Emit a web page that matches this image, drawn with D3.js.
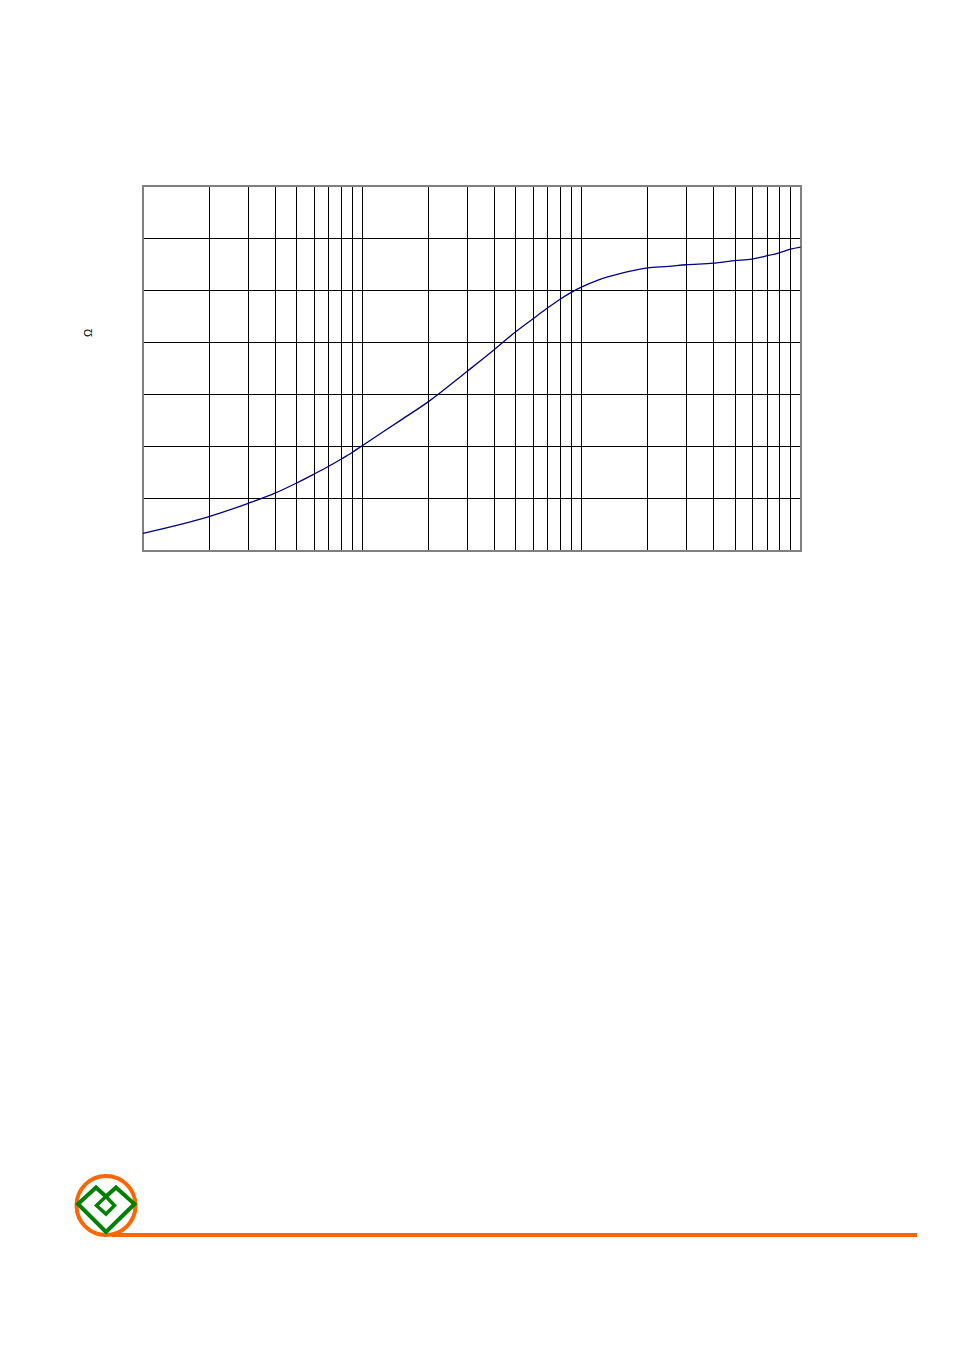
<!DOCTYPE html>
<html>
<head>
<meta charset="utf-8">
<script src="https://cdn.jsdelivr.net/npm/d3@7/dist/d3.min.js"></script>
<style>
html,body{margin:0;padding:0;background:#fff;}
svg{display:block;}
</style>
</head>
<body>
<svg id="chart" width="954" height="1351"></svg>
<script>
// Data (x: log frequency, y: impedance in Ω)
const freq = [1,2,3,4,5,6,7,8,9,10,15,20,30,40,50,60,70,80,90,100,120,150,200,250,300,400,500,600,700,800,900,1000];
const impedance = [0.33,0.65,0.90,1.10,1.29,1.46,1.61,1.75,1.88,2.01,2.50,2.85,3.43,3.85,4.19,4.44,4.65,4.82,4.95,5.05,5.19,5.31,5.42,5.45,5.48,5.51,5.56,5.59,5.65,5.71,5.78,5.82];
const xGridValues = [2,3,4,5,6,7,8,9,10,20,30,40,50,60,70,80,90,100,200,300,400,500,600,700,800,900];
const yGridValues = [1,2,3,4,5,6];
const yLabel = "Ω";

const svg = d3.select("#chart");
const plotLeft = 143, plotRight = 800.5, plotTop = 185.5, plotBottom = 550.5;

const x = d3.scaleLog().domain([1, 1000]).range([plotLeft, plotRight]);
const y = d3.scaleLinear().domain([0, 7]).range([plotBottom, plotTop]);

// vertical grid
svg.append("g")
  .attr("transform", `translate(0,${plotBottom})`)
  .call(d3.axisBottom(x).tickValues(xGridValues).tickSize(-(plotBottom - plotTop)).tickFormat(""))
  .call(g => g.select(".domain").remove())
  .call(g => g.selectAll(".tick line").attr("stroke", "#000").attr("stroke-width", 1).attr("shape-rendering", "crispEdges"));

// horizontal grid
svg.append("g")
  .attr("transform", `translate(${plotLeft},0)`)
  .call(d3.axisLeft(y).tickValues(yGridValues).tickSize(-(plotRight - plotLeft)).tickFormat(""))
  .call(g => g.select(".domain").remove())
  .call(g => g.selectAll(".tick line").attr("stroke", "#000").attr("stroke-width", 1).attr("shape-rendering", "crispEdges"));

// frame
svg.append("rect")
  .attr("x", plotLeft).attr("y", plotTop)
  .attr("width", plotRight - plotLeft).attr("height", plotBottom - plotTop)
  .attr("fill", "none").attr("stroke", "#808080").attr("stroke-width", 2)
  .attr("shape-rendering", "crispEdges");

// curve
const line = d3.line()
  .x((d, i) => x(freq[i]))
  .y(d => y(d))
  .curve(d3.curveMonotoneX);

svg.append("path")
  .datum(impedance)
  .attr("d", line)
  .attr("fill", "none")
  .attr("stroke", "#000080")
  .attr("stroke-width", 1.3);

// y label
svg.append("text")
  .attr("transform", "translate(92,333) rotate(-90)")
  .attr("text-anchor", "middle")
  .attr("font-family", "Liberation Sans, Arial, sans-serif")
  .attr("font-size", 11)
  .attr("fill", "#000")
  .text(yLabel);

// logo
const logo = svg.append("g");
logo.append("line")
  .attr("x1", 112).attr("x2", 917).attr("y1", 1235).attr("y2", 1235)
  .attr("stroke", "#FF6600").attr("stroke-width", 4);
logo.append("circle")
  .attr("cx", 106).attr("cy", 1205.5).attr("r", 29.5)
  .attr("fill", "none").attr("stroke", "#FF6600").attr("stroke-width", 4);
logo.append("path")
  .attr("d", "M78,1204 L96,1187.5 L106,1196.5 L116,1187.5 L134.5,1204 L106,1232 Z")
  .attr("fill", "none").attr("stroke", "#008000").attr("stroke-width", 4).attr("stroke-linejoin", "miter");
logo.append("path")
  .attr("d", "M96.5,1205.5 L106,1196.5 L114.5,1205.5 L106,1214 Z")
  .attr("fill", "none").attr("stroke", "#008000").attr("stroke-width", 3.5);
</script>
</body>
</html>
